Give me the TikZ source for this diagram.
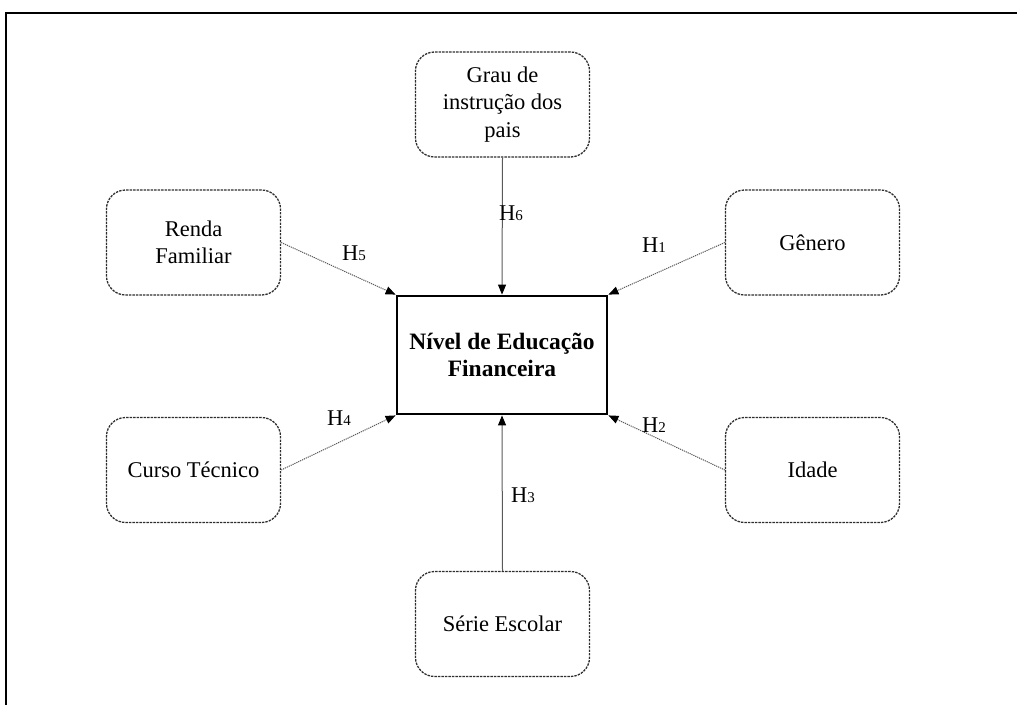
\documentclass[tikz,border=0pt]{standalone}
\usepackage{fontspec}
\setmainfont{Liberation Serif}
\usetikzlibrary{arrows.meta}
\definecolor{boxline}{HTML}{2E2E2E}
\definecolor{conn}{HTML}{5A5A5A}
\tikzset{
  factor/.style={draw=boxline, line width=1.3pt, dash pattern=on 2.4pt off 1.1pt,
    rounded corners=19pt, minimum width=174pt, minimum height=105pt,
    align=center, font=\fontsize{22.5}{27.5}\selectfont, inner sep=2pt},
  central/.style={draw=black, line width=2.8pt, minimum width=210pt, minimum height=118pt,
    align=center, font=\fontsize{23.5}{27}\selectfont\bfseries},
  tip/.style={-{Triangle[length=10pt,width=8pt,color=black]}},
  dotconn/.style={tip, draw=conn, line width=1pt, dash pattern=on 1.2pt off 0.9pt},
  solconn/.style={tip, draw=conn, line width=1pt},
  hlabel/.style={font=\fontsize{22.5}{27}\selectfont, inner sep=0pt},
}
\newcommand{\hyp}[1]{H{\fontsize{15}{15}\selectfont #1}}
\begin{document}
\begin{tikzpicture}[x=1pt,y=-1pt]
\useasboundingbox (0,0) rectangle (1017,704);
\draw[line width=2.2pt] (6,730) -- (6,13) -- (1040,13);

\node[central] (nef) at (502,355) {Nível de Educação\\Financeira};
\node[factor] (grau) at (502.5,104.5) {Grau de\\instrução dos\\pais};
\node[factor] (gen) at (812.5,242.5) {Gênero};
\node[factor] (renda) at (193.5,242.5) {Renda\\Familiar};
\node[factor] (curso) at (193.5,470) {Curso Técnico};
\node[factor] (idade) at (812.5,470) {Idade};
\node[factor] (serie) at (502.5,624) {Série Escolar};

\draw[solconn] (grau.south) -- (nef.north);
\draw[dotconn] (gen.west) -- (nef.north east);
\draw[dotconn] (renda.east) -- (nef.north west);
\draw[dotconn] (curso.east) -- (nef.south west);
\draw[dotconn] (idade.west) -- (nef.south east);
\draw[solconn] (serie.north) -- (nef.south);

\node[hlabel] (h6) at (511,213) {\hyp{6}};
\node[hlabel] (h1) at (654,245) {\hyp{1}};
\node[hlabel] (h5) at (354,253) {\hyp{5}};
\node[hlabel] (h4) at (339,418) {\hyp{4}};
\node[hlabel] (h2) at (654,425) {\hyp{2}};
\node[hlabel] (h3) at (523,495) {\hyp{3}};
\end{tikzpicture}
\end{document}
